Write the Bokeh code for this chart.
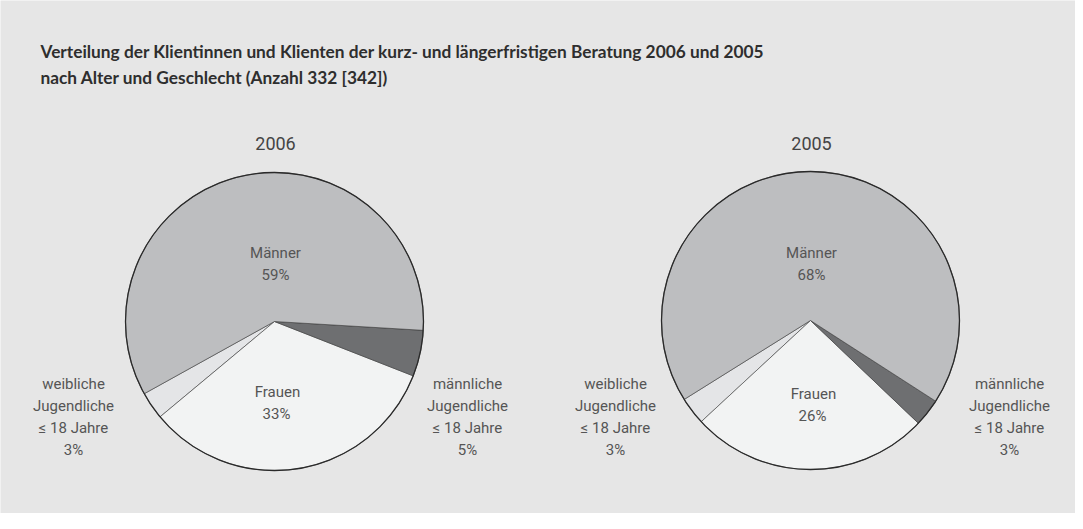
import math
from bokeh.plotting import figure
from bokeh.models import Range1d, ColumnDataSource
from bokeh.core.properties import value
from bokeh.embed import file_html
from bokeh.resources import INLINE

# ---------------- data ----------------
title_lines = [
    "Verteilung der Klientinnen und Klienten der kurz- und längerfristigen Beratung 2006 und 2005",
    "nach Alter und Geschlecht (Anzahl 332 [342])",
]
years = ["2006", "2005"]
categories = ["weibliche Jugendliche", "Frauen", "männliche Jugendliche", "Männer"]
values_2006 = [3, 33, 5, 59]
values_2005 = [3, 26, 3, 68]
outer_left_lines = ["weibliche", "Jugendliche", "≤ 18 Jahre"]
outer_right_lines = ["männliche", "Jugendliche", "≤ 18 Jahre"]
inner_names = ["Männer", "Frauen"]

# ---------------- style / layout ----------------
colors = ["#e4e5e7", "#f2f3f3", "#6e6f71", "#bdbec0"]
BG = "#e6e6e6"
TXT = "#555555"
W, H = 1075, 513
centers = [(282, 329), (818, 328)]
R = 149
start_deg = [-151, -148]
FONT = value("Roboto")

p = figure(width=W, height=H, output_backend="svg", toolbar_location=None,
           x_range=Range1d(8, 8 + W), y_range=Range1d(8 + H, 8),
           min_border=0, background_fill_color=BG, border_fill_color=BG,
           outline_line_color=None)
p.axis.visible = False
p.grid.visible = False

series = [values_2006, values_2005]
for k, vals in enumerate(series):
    cx, cy = centers[k]
    total = float(sum(vals))
    xs, ys = [], []
    a = math.radians(start_deg[k])
    for v in vals:
        span = 2 * math.pi * v / total
        n = max(4, int(v * 3))
        px, py = [cx], [cy]
        for i in range(n + 1):
            t = a + span * i / n
            px.append(cx + R * math.cos(t))
            py.append(cy - R * math.sin(t))
        xs.append(px)
        ys.append(py)
        a += span
    src = ColumnDataSource(dict(xs=xs, ys=ys, color=colors, cat=categories))
    p.patches("xs", "ys", source=src, fill_color="color", line_color="#3a3a3a",
              line_width=0.6)
    p.circle([cx], [cy], radius=R, fill_color=None, line_color="#2a2a2a",
             line_width=1.3)

    # year label
    p.text([cx + 1], [151], text=[years[k]], text_font=FONT, text_font_size="18px",
           text_color="#444444", text_align="center", text_baseline="alphabetic")

    # inner labels
    p.text([cx + 1, cx + 1], [260, 282], text=[inner_names[0], f"{vals[3]}%"],
           text_font=FONT, text_font_size="15px", text_color=TXT,
           text_align="center", text_baseline="alphabetic")
    fy = [399, 421] if k == 0 else [401, 423]
    p.text([cx + 3, cx + 2], fy, text=[inner_names[1], f"{vals[1]}%"],
           text_font=FONT, text_font_size="15px", text_color=TXT,
           text_align="center", text_baseline="alphabetic")

    # outer labels
    lx = [81, 623][k]
    rx = [475, 1017][k]
    oy = [391, 413, 435, 457]
    p.text([lx] * 4, oy, text=outer_left_lines + [f"{vals[0]}%"],
           text_font=FONT, text_font_size="15px", text_color=TXT,
           text_align="center", text_baseline="alphabetic")
    p.text([rx] * 4, oy, text=outer_right_lines + [f"{vals[2]}%"],
           text_font=FONT, text_font_size="15px", text_color=TXT,
           text_align="center", text_baseline="alphabetic")

# title
p.text([48, 48], [59, 85], text=title_lines, text_font=value("Lato"),
       text_font_size="17.3px", text_font_style="bold", text_color="#2e2e2e",
       text_align="left", text_baseline="alphabetic")

open("out.html", "w").write(file_html(p, INLINE))
